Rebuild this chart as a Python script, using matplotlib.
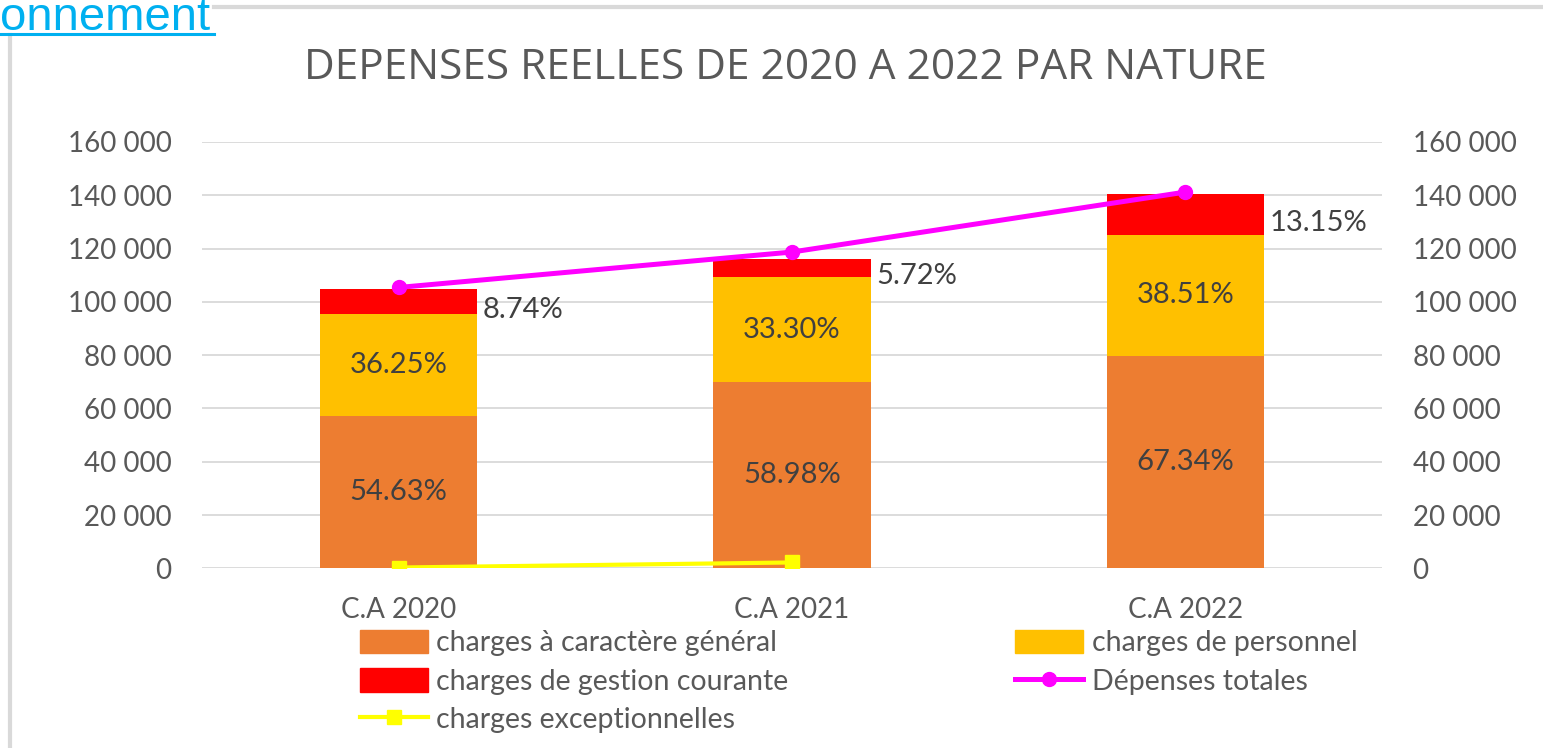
import numpy as np
import matplotlib.pyplot as plt
from matplotlib.ticker import FuncFormatter
from matplotlib.patches import Patch
from matplotlib.lines import Line2D

# data
categories = ['C.A 2020', 'C.A 2021', 'C.A 2022']
charges_generales = [57100, 69900, 79700]
charges_personnel = [38500, 39300, 45500]
charges_gestion = [9100, 6900, 15300]
depenses_totales = [105400, 118700, 141200]
charges_exceptionnelles = [300, 2200, np.nan]

labels_generales = ['54.63%', '58.98%', '67.34%']
labels_personnel = ['36.25%', '33.30%', '38.51%']
labels_gestion = ['8.74%', '5.72%', '13.15%']

c_orange = '#ED7D31'
c_yellow = '#FFC000'
c_red = '#FF0000'
c_magenta = '#FF00FF'
c_exc = '#FFFF00'
txt = '#595959'
lab = '#404040'
grid = '#D9D9D9'

fig = plt.figure(figsize=(15.43, 7.48), dpi=100)
ax = fig.add_axes([0.1309, 0.2402, 0.7648, 0.57])

x = np.arange(len(categories))
w = 0.40
ax.bar(x, charges_generales, w, color=c_orange, zorder=2)
bottom2 = np.array(charges_generales)
ax.bar(x, charges_personnel, w, bottom=bottom2, color=c_yellow, zorder=2)
bottom3 = bottom2 + np.array(charges_personnel)
ax.bar(x, charges_gestion, w, bottom=bottom3, color=c_red, zorder=2)

ax.plot(x, depenses_totales, color=c_magenta, lw=3.6, marker='o', ms=10, zorder=4)
ax.plot(x, charges_exceptionnelles, color=c_exc, lw=3, marker='s', ms=10, zorder=4)

# data labels
for i in range(len(x)):
    ax.text(x[i], charges_generales[i] / 2, labels_generales[i], ha='center', va='center',
            fontsize=21, color=lab, family='Lato', zorder=5)
    ax.text(x[i], bottom2[i] + charges_personnel[i] / 2, labels_personnel[i], ha='center',
            va='center', fontsize=21, color=lab, family='Lato', zorder=5)
    ax.annotate(labels_gestion[i], (x[i] + w / 2, bottom3[i] + charges_gestion[i] / 2),
                xytext=(4, -6), textcoords='offset points', ha='left', va='center',
                fontsize=21, color=lab, family='Lato', zorder=5)

ax.set_xlim(-0.5, 2.5)
ax.set_ylim(0, 160000)
ax.set_yticks(np.arange(0, 160001, 20000))
fmt = FuncFormatter(lambda v, p: f'{int(v):,}'.replace(',', ' '))
ax.yaxis.set_major_formatter(fmt)
ax.set_xticks(x)
ax.set_xticklabels(categories)
ax.grid(axis='y', color=grid, lw=1.3, zorder=0)
for s in ax.spines.values():
    s.set_visible(False)
ax.tick_params(length=0, labelsize=20, colors=txt, pad=22)
ax.tick_params(axis='x', pad=21)
for t in ax.get_xticklabels() + ax.get_yticklabels():
    t.set_family('Lato')

ax2 = ax.twinx()
ax2.set_ylim(0, 160000)
ax2.set_yticks(np.arange(0, 160001, 20000))
ax2.yaxis.set_major_formatter(fmt)
for s in ax2.spines.values():
    s.set_visible(False)
ax2.tick_params(length=0, labelsize=20, colors=txt, pad=22)
for t in ax2.get_yticklabels():
    t.set_family('Lato')

fig.text(0.509, 0.909, 'DEPENSES REELLES DE 2020 A 2022 PAR NATURE', ha='center', va='center',
         fontsize=30.5, color=txt, family='Open Sans')

handles = [
    Patch(color=c_orange),
    Patch(color=c_red),
    Line2D([], [], color=c_exc, lw=3, marker='s', ms=10),
    Patch(color=c_yellow),
    Line2D([], [], color=c_magenta, lw=3.6, marker='o', ms=10),
]
names = ['charges à caractère général', 'charges de gestion courante', 'charges exceptionnelles',
         'charges de personnel', 'Dépenses totales']
leg = fig.legend(handles, names, ncol=2, loc='upper left', bbox_to_anchor=(0.233, 0.158),
                 frameon=False, prop={'family': 'Lato', 'size': 20.5}, handlelength=2.4,
                 handleheight=0.9, handletextpad=0.3, columnspacing=7.95, labelspacing=0.41,
                 borderaxespad=0, borderpad=0)
for t in leg.get_texts():
    t.set_color(txt)

# surrounding page bits
fig.add_artist(Line2D([0.139, 1.0], [0.9906, 0.9906], color=grid, lw=3, transform=fig.transFigure))
fig.add_artist(Line2D([0.0065, 0.0065], [0.0, 0.953], color=grid, lw=3, transform=fig.transFigure))
fig.text(0.0, 0.96, 'onnement', ha='left', va='baseline', fontsize=34, color='#00B0F0',
         family='Liberation Sans')
fig.add_artist(Line2D([0.0, 0.139], [0.955, 0.955], color='#00B0F0', lw=2.2, transform=fig.transFigure))

fig.savefig('out.png', dpi=100)
